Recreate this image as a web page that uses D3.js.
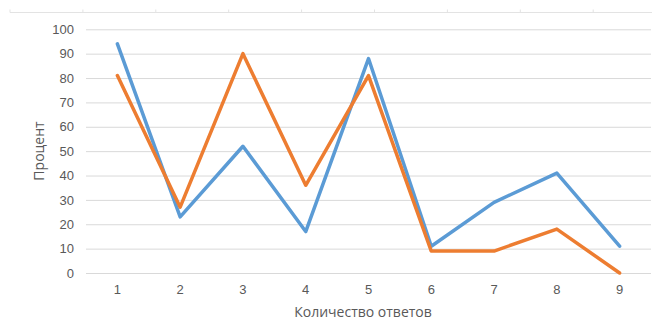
<!DOCTYPE html>
<html>
<head>
<meta charset="utf-8">
<script src="https://cdn.jsdelivr.net/npm/d3@7"></script>
<style>
  html, body { margin: 0; padding: 0; background: #fff; }
  svg { display: block; font-family: "Open Sans", "Noto Sans", sans-serif; }
</style>
</head>
<body>
<svg id="chart" width="656" height="320"></svg>
<script>
// Number of answers (x categories)
const categories = ["1", "2", "3", "4", "5", "6", "7", "8", "9"];
// Series values, percent
const seriesBlue = [94, 23, 52, 17, 88, 11, 29, 41, 11];
const seriesOrange = [81, 27, 90, 36, 81, 9, 9, 18, 0];
// Y tick labels
const yTicks = [0, 10, 20, 30, 40, 50, 60, 70, 80, 90, 100];

const xTitle = "Количество ответов";
const yTitle = "Процент";

const svg = d3.select("#chart");
const margin = { left: 86, right: 5, top: 29.3, bottom: 47 };
const W = 656, H = 320;

const x = d3.scaleBand().domain(categories).range([margin.left, W - margin.right]);
const y = d3.scaleLinear().domain([0, 100]).range([H - margin.bottom, margin.top]);

// faint frame line with small ticks across the top
const topY = 12.5;
svg.append("line")
  .attr("x1", 10).attr("x2", 652).attr("y1", topY).attr("y2", topY)
  .attr("stroke", "#e3e3e3").attr("stroke-width", 1);
svg.append("g").selectAll("line")
  .data(d3.range(0, 9))
  .join("line")
  .attr("x1", d => 10 + d * 72.9).attr("x2", d => 10 + d * 72.9)
  .attr("y1", topY - 3).attr("y2", topY)
  .attr("stroke", "#e3e3e3");

// gridlines
const yAxis = d3.axisLeft(y).tickValues(yTicks).tickSize(-(W - margin.left - margin.right)).tickPadding(12);
const gy = svg.append("g").attr("transform", `translate(${margin.left},0)`).call(yAxis);
gy.select(".domain").remove();
gy.selectAll(".tick line").attr("stroke", "#d9d9d9").attr("stroke-width", 1);
gy.selectAll(".tick text").attr("fill", "#595959").attr("font-size", 13);

// x axis labels
const xAxis = d3.axisBottom(x).tickSize(0).tickPadding(12);
const gx = svg.append("g").attr("transform", `translate(0,${H - margin.bottom})`).call(xAxis);
gx.select(".domain").remove();
gx.selectAll(".tick text").attr("fill", "#595959").attr("font-size", 13);

// lines
const line = d3.line()
  .x((d, i) => x(categories[i]) + x.bandwidth() / 2)
  .y(d => y(d));

svg.append("path").datum(seriesBlue)
  .attr("d", line).attr("fill", "none")
  .attr("stroke", "#5B9BD5").attr("stroke-width", 3.5)
  .attr("stroke-linejoin", "round").attr("stroke-linecap", "round");

svg.append("path").datum(seriesOrange)
  .attr("d", line).attr("fill", "none")
  .attr("stroke", "#ED7D31").attr("stroke-width", 3.5)
  .attr("stroke-linejoin", "round").attr("stroke-linecap", "round");

// axis titles
svg.append("text")
  .attr("x", 363).attr("y", 317)
  .attr("text-anchor", "middle")
  .attr("fill", "#595959").attr("font-size", 14)
  .text(xTitle);

svg.append("text")
  .attr("transform", "translate(44,151) rotate(-90)")
  .attr("text-anchor", "middle")
  .attr("fill", "#595959").attr("font-size", 14)
  .text(yTitle);
</script>
</body>
</html>
